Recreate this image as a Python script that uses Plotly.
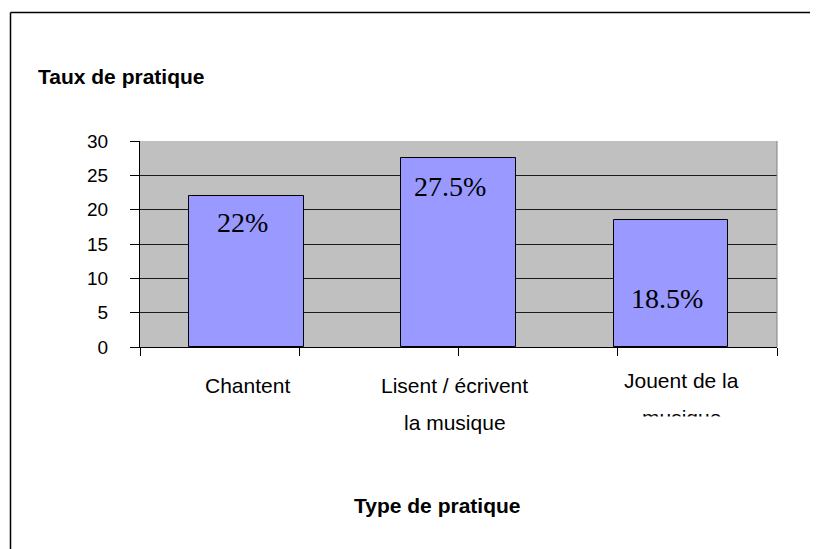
import plotly.graph_objects as go

categories = ["Chantent", "Lisent / écrivent<br>la musique", "Jouent de la<br>musique"]
values = [22, 27.5, 18.5]
value_labels = ["22%", "27.5%", "18.5%"]
label_y = [18.1, 23.4, 7.0]
y_title = "Taux de pratique"
x_title = "Type de pratique"
y_ticks = [0, 5, 10, 15, 20, 25, 30]

OFF = 8  # page body margin
W, H = 818 - OFF, 549 - OFF
PX0, PX1, PY0, PY1 = 140, 777, 141, 347
L, T = PX0 - OFF, PY0 - OFF
R = W - (PX1 - OFF)
B = H - (PY1 - OFF)
pw, ph = PX1 - PX0, PY1 - PY0

xs = [i + 0.5 for i in range(len(categories))]

fig = go.Figure()
fig.add_trace(go.Bar(
    x=xs, y=values, width=0.54,
    marker=dict(color="#9999FF", line=dict(color="#000000", width=1)),
    hoverinfo="skip",
))

ann = []
lab_xshift = [-4, -9, -4]
for x, ly, t, xsh in zip(xs, label_y, value_labels, lab_xshift):
    ann.append(dict(x=x, y=ly, xref="x", yref="y", text=t, showarrow=False,
                    xshift=xsh, yanchor="middle",
                    font=dict(family="Liberation Serif, Times New Roman, serif", size=28, color="#000")))

cat_font = dict(family="Liberation Sans, Arial, sans-serif", size=21, color="#000")
line_shift = [(-38,), (-38, -75), (-33, -70)]
x_shift = [1, -4, 11]
for x, cat, shifts, xsh in zip(xs, categories, line_shift, x_shift):
    for line, ys in zip(cat.split("<br>"), shifts):
        ann.append(dict(x=x, y=0, xref="x", yref="y", text=line, showarrow=False,
                        xshift=xsh, yshift=ys, yanchor="middle", font=cat_font))
ann.append(dict(x=xs[2], y=0, xref="x", yref="y", text=" ", showarrow=False,
                xshift=x_shift[2], yshift=-(416 - PY1), yanchor="top",
                width=170, height=40, bgcolor="#FFFFFF", borderpad=0,
                font=dict(size=10)))

ann.append(dict(x=(36 - PX0) / pw, y=1, xref="paper", yref="paper", xanchor="left",
                yanchor="middle", yshift=PY0 - 76, text="<b>" + y_title + "</b>", showarrow=False,
                font=dict(family="Liberation Sans, Arial, sans-serif", size=21, color="#000")))
ann.append(dict(x=(437 - PX0) / pw, y=0, xref="paper", yref="paper", xanchor="center",
                yanchor="middle", yshift=-(505 - PY1), text="<b>" + x_title + "</b>", showarrow=False,
                font=dict(family="Liberation Sans, Arial, sans-serif", size=21, color="#000")))

fx = (10.5 - PX0) / pw
fy = (PY1 - 12.5) / ph
fx_end = (830 - PX0) / pw
fy_end = (PY1 - 560) / ph
shapes = [
    dict(type="line", xref="paper", yref="paper", x0=fx, x1=fx_end, y0=fy, y1=fy,
         line=dict(color="#000000", width=1.5), layer="below"),
    dict(type="line", xref="paper", yref="paper", x0=fx, x1=fx, y0=fy, y1=fy_end,
         line=dict(color="#000000", width=1.5), layer="below"),
    dict(type="line", xref="paper", yref="paper", x0=1, x1=1, y0=0, y1=1,
         line=dict(color="#808080", width=1)),
]

fig.update_layout(
    width=W, height=H,
    margin=dict(l=L, r=R, t=T, b=B, autoexpand=False),
    paper_bgcolor="#FFFFFF", plot_bgcolor="#C0C0C0",
    showlegend=False, bargap=0,
    annotations=ann, shapes=shapes,
    xaxis=dict(range=[0, 3], tickvals=[0, 0.75, 1.5, 2.25, 3], ticktext=[""] * 5,
               ticks="outside", ticklen=8, tickcolor="#000", showgrid=False,
               showline=True, linecolor="#000", linewidth=1, zeroline=False, fixedrange=True),
    yaxis=dict(range=[0, 30], tickvals=y_ticks, ticks="outside", ticklen=9, tickcolor="#000",
               showgrid=True, gridcolor="#1a1a1a", gridwidth=1,
               showline=True, linecolor="#000", linewidth=1, zeroline=False,
               ticklabelstandoff=18,
               tickfont=dict(family="Liberation Sans, Arial, sans-serif", size=19, color="#000"),
               fixedrange=True),
)

fig.write_html("out.html", config={"displayModeBar": False})
